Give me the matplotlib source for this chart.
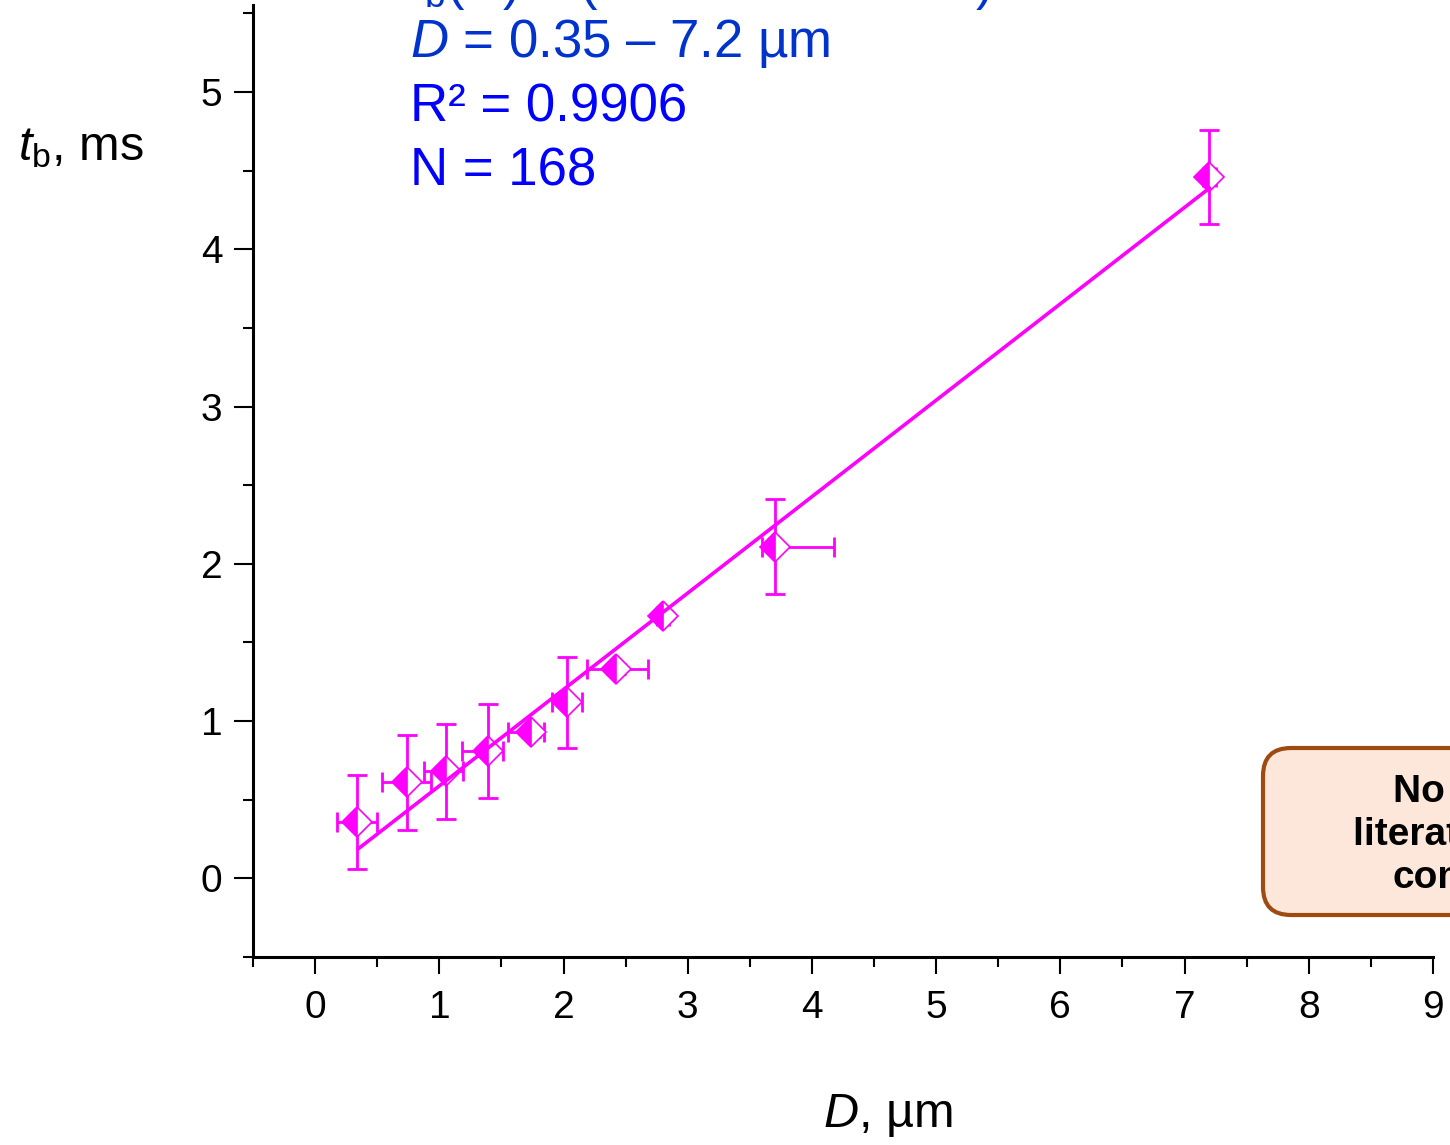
import matplotlib
matplotlib.use("Agg")
import matplotlib.pyplot as plt
import numpy as np
from matplotlib.patches import FancyBboxPatch
from matplotlib.transforms import IdentityTransform
from matplotlib.ticker import MultipleLocator

# Measured points (diameter in um, breakup time in ms)
diameter = [0.34, 0.74, 1.05, 1.39, 1.74, 2.03, 2.42, 2.80, 3.70, 7.20]
t_break = [0.36, 0.61, 0.68, 0.81, 0.93, 1.12, 1.33, 1.67, 2.11, 4.46]
diameter_err_low = [0.16, 0.20, 0.17, 0.21, 0.19, 0.12, 0.23, 0.05, 0.10, 0.05]
diameter_err_high = [0.16, 0.19, 0.14, 0.12, 0.10, 0.12, 0.26, 0.05, 0.48, 0.05]
t_break_err = [0.30, 0.30, 0.30, 0.30, 0.03, 0.29, 0.03, 0.03, 0.30, 0.30]

# Linear fit shown on the chart
fit_slope = 0.613
fit_intercept = -0.025
fit_range = [0.35, 7.2]

info_lines = ["$D$ = 0.35 – 7.2 µm", "R² = 0.9906", "N = 168"]
box_lines = ["No relevant", "literature data for", "comparison"]

font = "Liberation Sans"
plt.rcParams["font.family"] = [font, "DejaVu Sans"]
plt.rcParams["mathtext.fontset"] = "custom"
plt.rcParams["mathtext.rm"] = font
plt.rcParams["mathtext.it"] = font + ":italic"

W, H = 1450, 1145
fig = plt.figure(figsize=(W / 100, H / 100), dpi=100)
ax = fig.add_axes([253 / W, 1 - 957 / H, (1433 - 253) / W, (957 - 5) / H])

magenta = "#FF00FF"

# error bars and half-filled diamonds
ax.errorbar(diameter, t_break, xerr=[diameter_err_low, diameter_err_high],
            yerr=t_break_err, fmt="none", ecolor=magenta, elinewidth=2,
            capsize=7, capthick=2, zorder=2)
ax.plot(diameter, t_break, linestyle="none", marker="D", markersize=15,
        fillstyle="left", markerfacecolor=magenta,
        markerfacecoloralt="white", markeredgecolor=magenta,
        markeredgewidth=1.2, zorder=3)

# fit line
xf = np.array(fit_range)
ax.plot(xf, fit_slope * xf + fit_intercept, color=magenta, lw=2.6, zorder=4)

ax.set_xlim(-0.5, 9)
ax.set_ylim(-0.5, 5.553)
ax.xaxis.set_major_locator(MultipleLocator(1))
ax.xaxis.set_minor_locator(MultipleLocator(0.5))
ax.yaxis.set_major_locator(MultipleLocator(1))
ax.yaxis.set_minor_locator(MultipleLocator(0.5))

for side in ["top", "right"]:
    ax.spines[side].set_visible(False)
for side in ["left", "bottom"]:
    ax.spines[side].set_linewidth(2.2)

ax.tick_params(axis="y", which="major", direction="out", length=14, width=1.5,
               labelsize=28, pad=8)
ax.tick_params(axis="y", which="minor", direction="out", length=7, width=1.5)
ax.tick_params(axis="x", which="major", direction="out", length=12, width=1.5,
               labelsize=28, pad=12)
ax.tick_params(axis="x", which="minor", direction="out", length=7, width=1.5)

# axis titles
fig.text(18 / W, 1 - 160 / H, "$t_\\mathrm{b}$, ms", fontsize=35, va="baseline")
fig.text(888 / W, 1 - 1127 / H, "$D$, µm", fontsize=35, va="baseline", ha="center")

# fit info, first line is cut by the top edge
fig.text(410 / W, 1 + 1 / H, "$t_\\mathrm{b}$($D$) = (0.613·$D$ – 0.025)",
         fontsize=38, color="#0033CC", va="baseline")
info_colors = ["#0033CC", "#0000FF", "#0000FF"]
info_base = [57, 122, 185]
for txt, col, yb in zip(info_lines, info_colors, info_base):
    fig.text(410 / W, 1 - yb / H, txt, fontsize=38, color=col, va="baseline")

# note box on the right edge
box = FancyBboxPatch((1263, H - 915), 400, 167,
                     boxstyle="round,pad=0,rounding_size=28",
                     transform=IdentityTransform(), facecolor="#FCE7DA",
                     edgecolor="#9E4B12", linewidth=3)
fig.add_artist(box)
box_x = [1393, 1353, 1393]
box_base = [802, 845, 888]
for txt, xs, yb in zip(box_lines, box_x, box_base):
    fig.text(xs / W, 1 - yb / H, txt, fontsize=28, fontweight="bold",
             va="baseline", ha="left")

fig.savefig("out.png", dpi=100)
